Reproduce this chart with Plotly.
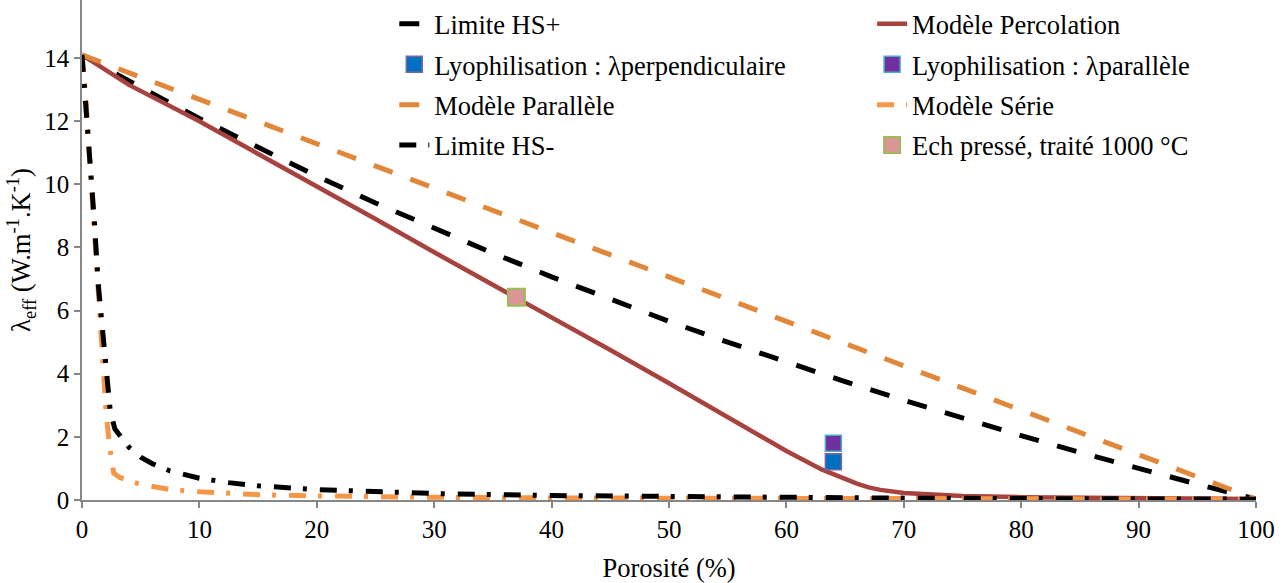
import plotly.graph_objects as go

# ---------------- data ----------------
porosite_hs_plus = [0, 5, 10, 15, 20, 25, 30, 35, 40, 45, 50, 55, 60, 65, 70, 75, 80, 85, 90, 95, 100]
hs_plus = [14.1, 13.07, 12.09, 11.16, 10.26, 9.41, 8.60, 7.82, 7.07, 6.35, 5.66,
           5.00, 4.36, 3.75, 3.16, 2.59, 2.04, 1.51, 1.00, 0.50, 0.03]

porosite_parallele = [0, 10, 20, 30, 40, 50, 60, 70, 80, 90, 100]
parallele = [14.1, 12.69, 11.28, 9.88, 8.47, 7.06, 5.65, 4.24, 2.84, 1.43, 0.03]

porosite_percolation = [0, 4, 10, 15, 20, 25, 30, 37, 40, 45, 50, 55, 60, 63, 64, 65, 66,
                        67, 68, 70, 72, 75, 80, 90, 100]
percolation = [14.1, 13.15, 12.0, 10.98, 9.93, 8.9, 7.85, 6.42, 5.8, 4.75, 3.7, 2.62, 1.55,
               0.97, 0.82, 0.66, 0.52, 0.40, 0.32, 0.22, 0.17, 0.13, 0.09, 0.06, 0.03]

porosite_hs_moins = [0, 0.26, 0.62, 1.05, 1.39, 1.85, 2.41, 2.8, 3.2, 4, 5, 6, 7.5, 10, 12.5,
                     15, 20, 25, 30, 40, 50, 60, 70, 80, 90, 100]
hs_moins = [14.1, 12.86, 10.84, 8.84, 6.81, 4.81, 2.8, 2.25, 2.04, 1.67, 1.36, 1.15, 0.92,
            0.69, 0.55, 0.45, 0.33, 0.25, 0.205, 0.141, 0.103, 0.078, 0.059, 0.045, 0.035, 0.026]

porosite_serie = [0, 0.3, 0.65, 1.0, 1.35, 1.7, 2.05, 2.35, 2.7, 3.2, 4, 5, 6, 7.5, 10, 12.5,
                  15, 20, 25, 30, 40, 50, 60, 70, 80, 90, 100]
serie = [14.1, 12.9, 10.85, 8.85, 6.8, 4.8, 2.8, 1.7, 0.85, 0.72, 0.6, 0.5, 0.42, 0.33, 0.26,
         0.2, 0.17, 0.13, 0.10, 0.085, 0.065, 0.052, 0.043, 0.037, 0.032, 0.029, 0.026]

porosite_lyo = [64]
lyo_perpendiculaire = [1.21]
lyo_parallele = [1.8]

porosite_ech = [37]
ech_presse = [6.42]

# ---------------- styles ----------------
FONT = "Liberation Serif"
C_HS = "#000000"
C_PERCO = "#A8423F"
C_PARA = "#E0873A"
C_SERIE = "#F79646"

fig = go.Figure()

fig.add_trace(go.Scatter(x=porosite_hs_plus, y=hs_plus, mode="lines", name="Limite HS+",
                         line=dict(color=C_HS, width=5, dash="20px,19px"),
                         legend="legend", legendgroup="a", legendrank=1))
fig.add_trace(go.Scatter(x=porosite_percolation, y=percolation, mode="lines", name="Modèle Percolation",
                         line=dict(color=C_PERCO, width=4.5),
                         legend="legend2", legendgroup="b", legendrank=1))
fig.add_trace(go.Scatter(x=porosite_parallele, y=parallele, mode="lines", name="Modèle Parallèle",
                         line=dict(color=C_PARA, width=5, dash="20px,19px"),
                         legend="legend", legendgroup="c", legendrank=3))
fig.add_trace(go.Scatter(x=porosite_serie, y=serie, mode="lines", name="Modèle Série",
                         line=dict(color=C_SERIE, width=5, dash="17px,12px,4px,13px"),
                         legend="legend2", legendgroup="d", legendrank=3))
fig.add_trace(go.Scatter(x=porosite_hs_moins, y=hs_moins, mode="lines", name="Limite HS-",
                         line=dict(color=C_HS, width=5, dash="17px,12px,4px,13px"),
                         legend="legend", legendgroup="e", legendrank=4))
fig.add_trace(go.Scatter(x=porosite_lyo, y=lyo_parallele, mode="markers",
                         name="Lyophilisation : λparallèle",
                         marker=dict(symbol="square", size=16, color="#7030A0",
                                     line=dict(color="#4BACC6", width=1.5)),
                         legend="legend2", legendgroup="f", legendrank=2))
fig.add_trace(go.Scatter(x=porosite_lyo, y=lyo_perpendiculaire, mode="markers",
                         name="Lyophilisation : λperpendiculaire",
                         marker=dict(symbol="square", size=16, color="#0070C0",
                                     line=dict(color="#8064A2", width=1.5)),
                         legend="legend", legendgroup="g", legendrank=2))
fig.add_trace(go.Scatter(x=porosite_ech, y=ech_presse, mode="markers",
                         name="Ech pressé, traité 1000 °C",
                         marker=dict(symbol="square", size=17, color="#D99694",
                                     line=dict(color="#9BBB59", width=2)),
                         legend="legend2", legendgroup="h", legendrank=4))

legend_common = dict(font=dict(family=FONT, size=26.5, color="#000000"),
                     bgcolor="rgba(0,0,0,0)", traceorder="grouped", tracegroupgap=3,
                     yanchor="top", xanchor="left", orientation="v")

fig.update_layout(
    width=1288, height=583,
    margin=dict(l=82, r=32, t=0, b=83),
    paper_bgcolor="white", plot_bgcolor="white",
    font=dict(family=FONT, size=25, color="#000000"),
    legend=dict(x=0.266, y=1.0, **legend_common),
    legend2=dict(x=0.673, y=1.0, **legend_common),
    xaxis=dict(range=[0, 100], tickmode="linear", tick0=0, dtick=10,
               showgrid=False, zeroline=False, showline=True, linecolor="#868686", linewidth=1.5,
               ticks="outside", ticklen=6, tickcolor="#868686", tickwidth=1.5,
               tickfont=dict(family=FONT, size=25),
               title=dict(text="Porosité (%)", font=dict(family=FONT, size=26.5), standoff=17)),
    yaxis=dict(range=[0, 15.84], tickmode="linear", tick0=0, dtick=2,
               showgrid=False, zeroline=False, showline=True, linecolor="#868686", linewidth=1.5,
               ticks="outside", ticklen=6, tickcolor="#868686", tickwidth=1.5,
               tickfont=dict(family=FONT, size=25),
               title=dict(text="λ<sub>eff</sub> (W.m<sup>-1</sup>.K<sup>-1</sup>)",
                          font=dict(family=FONT, size=26.5), standoff=6)),
)

fig.write_html("out.html", config={"displayModeBar": False},
               post_script="document.body.style.margin='0';")
